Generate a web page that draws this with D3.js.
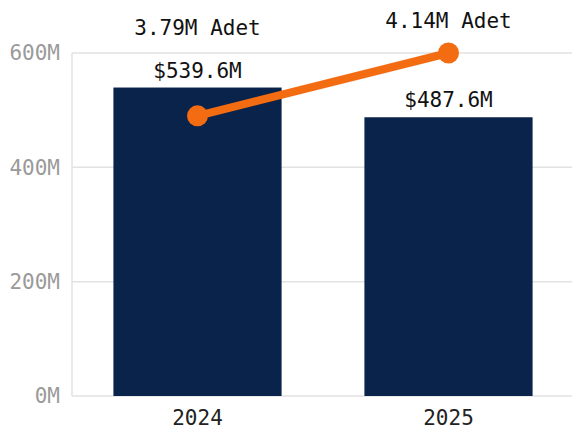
<!DOCTYPE html>
<html><head><meta charset="utf-8">
<script src="https://cdn.jsdelivr.net/npm/d3@7"></script>
<style>html,body{margin:0;padding:0;background:#fff;}</style>
</head><body><svg id="c" width="572" height="436"></svg>
<script>
const categories = ["2024", "2025"];
const revenue = [539.6, 487.6];          // millions USD
const units = [3.79, 4.14];              // millions Adet
const revenueLabels = ["$539.6M", "$487.6M"];
const unitLabels = ["3.79M Adet", "4.14M Adet"];
const yTicks = [0, 200, 400, 600];

(function () {
const svg = d3.select("#c");
const font = "'DejaVu Sans Mono', monospace";
const mLeft = 72, mRight = 574, mTop = 53, mBottom = 396;

const x = d3.scaleBand().domain(categories).range([mLeft, mRight]).paddingInner(0.33).paddingOuter(0.165);
const y = d3.scaleLinear().domain([0, 600]).range([mBottom, mTop]);
const y2 = d3.scaleLinear().domain([2.23, 4.14]).range([mBottom, mTop]);

// grid
svg.append("g").selectAll("line").data(yTicks).join("line")
  .attr("x1", mLeft).attr("x2", 572)
  .attr("y1", d => y(d)).attr("y2", d => y(d))
  .attr("stroke", "#e2e2e2").attr("stroke-width", 1.5);
svg.append("line").attr("x1", mLeft).attr("x2", mLeft).attr("y1", mTop).attr("y2", mBottom)
  .attr("stroke", "#e2e2e2").attr("stroke-width", 1.5);

// y axis labels
const yAxis = d3.axisLeft(y).tickValues(yTicks).tickFormat(d => d + "M").tickSize(0).tickPadding(12);
const ya = svg.append("g").attr("transform", `translate(${mLeft},0)`).call(yAxis);
ya.select(".domain").remove();
ya.selectAll("text").attr("font-family", font).attr("font-size", 21).attr("fill", "#9a9a9a");

// x axis labels
const xAxis = d3.axisBottom(x).tickSize(0).tickPadding(14);
const xa = svg.append("g").attr("transform", `translate(0,${mBottom})`).call(xAxis);
xa.select(".domain").remove();
xa.selectAll("text").attr("font-family", font).attr("font-size", 21).attr("fill", "#222");

// bars
svg.selectAll("rect.bar").data(categories).join("rect").attr("class", "bar")
  .attr("x", d => x(d)).attr("width", x.bandwidth())
  .attr("y", (d, i) => y(revenue[i])).attr("height", (d, i) => mBottom - y(revenue[i]))
  .attr("fill", "#0a234b");

// bar labels
svg.selectAll("text.bl").data(categories).join("text").attr("class", "bl")
  .attr("x", d => x(d) + x.bandwidth() / 2)
  .attr("y", (d, i) => y(revenue[i]) - 10)
  .attr("text-anchor", "middle").attr("font-family", font).attr("font-size", 21).attr("fill", "#111")
  .text((d, i) => revenueLabels[i]);

// line
const cx = d => x(d) + x.bandwidth() / 2;
const line = d3.line().x(d => cx(d)).y((d, i) => y2(units[i]));
svg.append("path").datum(categories).attr("d", line)
  .attr("fill", "none").attr("stroke", "#f36c12").attr("stroke-width", 8).attr("stroke-linecap", "round");
svg.selectAll("circle.pt").data(categories).join("circle").attr("class", "pt")
  .attr("cx", cx).attr("cy", (d, i) => y2(units[i])).attr("r", 10.5).attr("fill", "#f36c12");

// line labels
svg.selectAll("text.ll").data(categories).join("text").attr("class", "ll")
  .attr("x", cx)
  .attr("y", (d, i) => Math.min(y2(units[i]) - 25, y(revenue[i]) - 10 - 43))
  .attr("text-anchor", "middle").attr("font-family", font).attr("font-size", 21).attr("fill", "#111")
  .text((d, i) => unitLabels[i]);
})();
</script></body></html>
